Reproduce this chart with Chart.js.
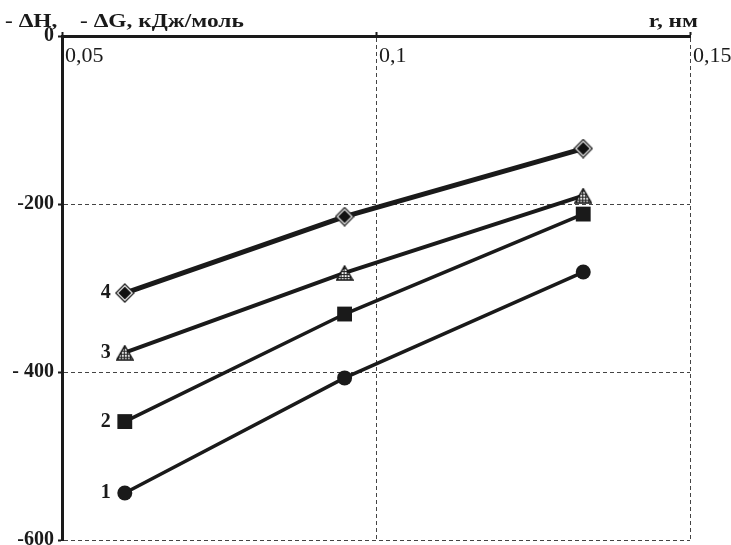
<!DOCTYPE html>
<html>
<head>
<meta charset="utf-8">
<script src="https://cdn.jsdelivr.net/npm/chart.js@4.4.0/dist/chart.umd.min.js"></script>
<style>
  body { margin: 0; background: #fff; }
  #wrap { width: 731px; height: 545px; }
</style>
</head>
<body>
<div id="wrap"><canvas id="chart" width="731" height="545"></canvas></div>
<script>
// ionic radius, nm
const radii = [0.060, 0.095, 0.133];

// - dH, - dG, kJ/mol (curves 1..4, bottom to top)
const curve1 = [-544, -407, -281];
const curve2 = [-459, -331, -212];
const curve3 = [-377, -282, -190];
const curve4 = [-306, -215, -134];

const curveNames = ['1', '2', '3', '4'];
const xTickLabels = ['0,05', '0,1', '0,15'];
const yTickValues = [-600, -400, -200, 0];
const yTickLabels = ['-600', '- 400', '-200', '0'];

const INK = '#1a1a1a';
const SERIF = '"Liberation Serif", "Times New Roman", serif';

// marker pictures
const makeDiamond = () => {
  const c = document.createElement('canvas');
  c.width = c.height = 20;
  const g = c.getContext('2d');
  const d = (r) => {
    g.beginPath();
    g.moveTo(10, 10 - r); g.lineTo(10 + r, 10); g.lineTo(10, 10 + r); g.lineTo(10 - r, 10);
    g.closePath();
  };
  d(9); g.fillStyle = '#fff'; g.fill();
  g.strokeStyle = '#222'; g.lineWidth = 1.3; g.stroke();
  d(6.5); g.fillStyle = '#111'; g.fill();
  return c;
};

const makeTriangle = () => {
  const c = document.createElement('canvas');
  c.width = 18; c.height = 16;
  const g = c.getContext('2d');
  g.beginPath();
  g.moveTo(9, 1); g.lineTo(17, 15); g.lineTo(1, 15); g.closePath();
  g.fillStyle = '#fff'; g.fill();
  g.save();
  g.clip();
  g.fillStyle = '#222';
  for (let y = 3; y < 16; y += 3) g.fillRect(0, y, 18, 1.2);
  for (let x = 2; x < 18; x += 3) g.fillRect(x, 0, 1, 16);
  g.restore();
  g.strokeStyle = '#111'; g.lineWidth = 1.4; g.stroke();
  return c;
};

const toPoints = (ys) => ys.map((y, i) => ({x: radii[i], y: y}));

// the original lettering is a bit wider than Times, stretch it
const wideText = (ctx, text, x, y, sx) => {
  ctx.save();
  ctx.translate(x, y);
  ctx.scale(sx, 1);
  ctx.fillText(text, 0, 0);
  ctx.restore();
};

// numbers next to the first point of every curve, and the axis captions
const captions = {
  id: 'captions',
  afterDatasetsDraw(chart) {
    const {ctx, chartArea} = chart;
    ctx.save();
    ctx.fillStyle = INK;
    ctx.font = 'bold 20px ' + SERIF;
    ctx.textAlign = 'right';
    ctx.textBaseline = 'middle';
    chart.data.datasets.forEach((ds, i) => {
      const p = chart.getDatasetMeta(i).data[0];
      ctx.fillText(curveNames[i], p.x - 14, p.y);
    });
    ctx.font = 'bold 18px ' + SERIF;
    ctx.textBaseline = 'alphabetic';
    ctx.textAlign = 'left';
    wideText(ctx, '- \u0394H,', 5, 27, 1.3);
    wideText(ctx, '- \u0394G, кДж/моль', 80, 27, 1.3);
    ctx.textAlign = 'right';
    wideText(ctx, 'r, нм', chartArea.right + 8, 27, 1.3);
    ctx.restore();
  }
};

const ctx = document.getElementById('chart').getContext('2d');
new Chart(ctx, {
  type: 'scatter',
  data: {
    datasets: [
      {
        data: toPoints(curve1),
        showLine: true,
        borderColor: INK,
        borderWidth: 3.5,
        pointStyle: 'circle',
        pointRadius: 7.5,
        pointBackgroundColor: INK,
        pointBorderWidth: 0,
      },
      {
        data: toPoints(curve2),
        showLine: true,
        borderColor: INK,
        borderWidth: 3.5,
        pointStyle: 'rect',
        pointRadius: 10.5,
        pointBackgroundColor: INK,
        pointBorderWidth: 0,
      },
      {
        data: toPoints(curve3),
        showLine: true,
        borderColor: INK,
        borderWidth: 4,
        pointStyle: makeTriangle(),
        pointRadius: 8,
      },
      {
        data: toPoints(curve4),
        showLine: true,
        borderColor: INK,
        borderWidth: 5,
        pointStyle: makeDiamond(),
        pointRadius: 9,
      },
    ],
  },
  options: {
    responsive: false,
    animation: false,
    devicePixelRatio: 1,
    layout: {
      autoPadding: false,
      padding: {left: 0, top: 0, right: 41, bottom: 5},
    },
    plugins: {
      legend: {display: false},
      tooltip: {enabled: false},
    },
    scales: {
      x: {
        type: 'linear',
        position: 'top',
        min: 0.05,
        max: 0.15,
        ticks: {
          stepSize: 0.05,
          mirror: true,
          align: 'start',
          labelOffset: 3,
          padding: 7,
          color: INK,
          font: {family: SERIF, size: 22},
          callback: (v, i) => xTickLabels[i],
        },
        grid: {
          color: '#444',
          lineWidth: 1,
          tickLength: 4,
          tickColor: INK,
          tickWidth: 2,
        },
        border: {color: INK, width: 3, dash: [4, 3]},
        afterFit: (scale) => {
          scale.height = 36;
          scale.paddingLeft = 0;
          scale.paddingRight = 0;
        },
      },
      y: {
        type: 'linear',
        min: -600,
        max: 0,
        ticks: {
          stepSize: 200,
          padding: 4,
          color: INK,
          font: {family: SERIF, size: 20, weight: 'bold'},
          callback: (v) => yTickLabels[yTickValues.indexOf(v)],
        },
        grid: {
          color: '#444',
          lineWidth: 1,
          tickLength: 4,
          tickColor: INK,
          tickWidth: 2,
        },
        border: {color: INK, width: 3, dash: [4, 3]},
        afterFit: (scale) => {
          scale.width = 62;
          scale.paddingTop = 0;
          scale.paddingBottom = 0;
        },
      },
    },
  },
  plugins: [captions],
});
</script>
</body>
</html>
